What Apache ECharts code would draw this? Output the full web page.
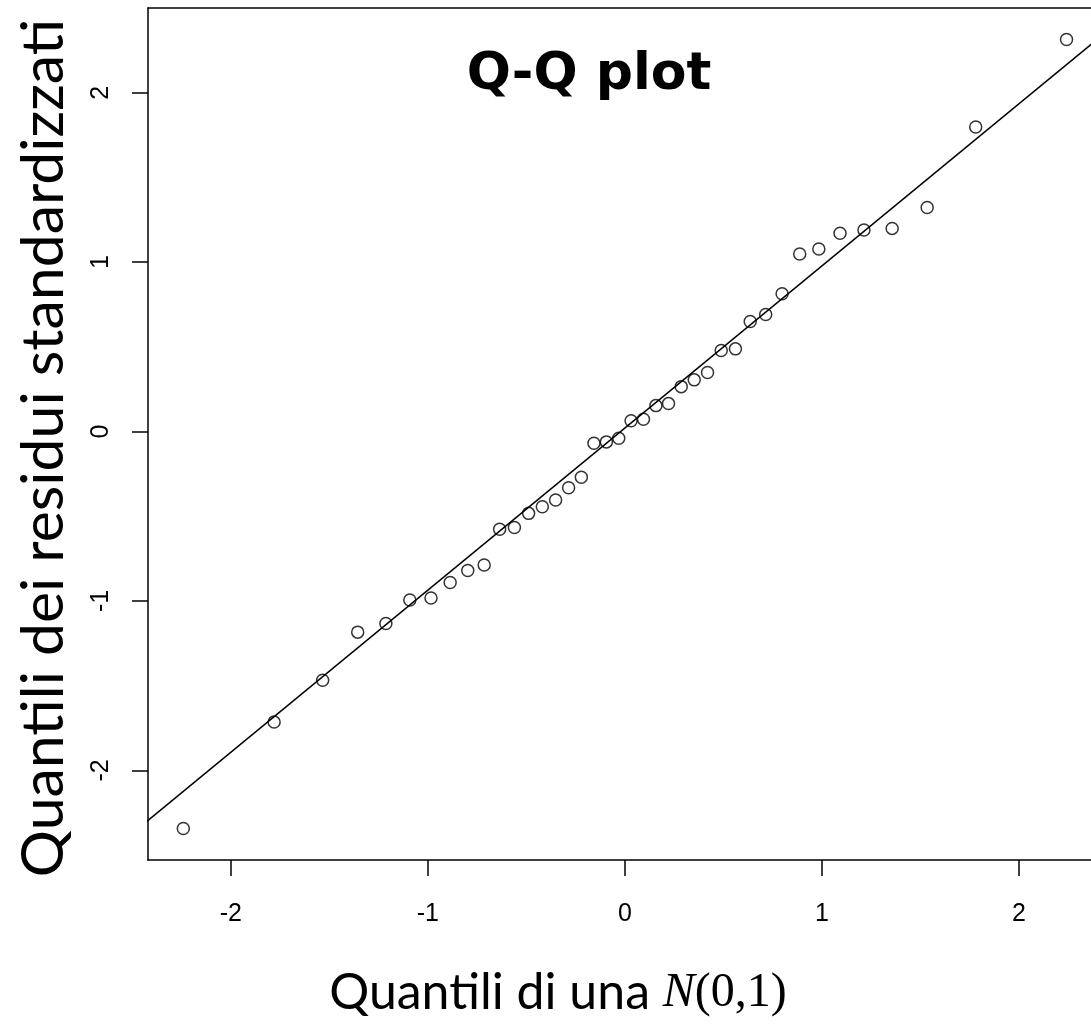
<!DOCTYPE html>
<html>
<head>
<meta charset="utf-8">
<script src="https://cdn.jsdelivr.net/npm/echarts@6/dist/echarts.min.js"></script>
<style>
  html, body { margin: 0; padding: 0; background: #fff; }
  #chart { width: 1091px; height: 1027px; }
</style>
</head>
<body>
<div id="chart"></div>
<script>
// Theoretical N(0,1) quantiles (x)
const theoreticalQuantiles = [
  -2.2414, -1.7805, -1.5341, -1.3563, -1.2133, -1.0918, -0.9842, -0.8871, -0.7977, -0.7144,
  -0.6359, -0.5609, -0.4888, -0.4193, -0.3518, -0.2858, -0.2212, -0.1573, -0.0941, -0.0313,
   0.0313,  0.0941,  0.1573,  0.2212,  0.2858,  0.3518,  0.4193,  0.4888,  0.5609,  0.6359,
   0.7144,  0.7977,  0.8871,  0.9842,  1.0918,  1.2133,  1.3563,  1.5341,  1.7805,  2.2414
];
// Standardized residual quantiles (y)
const residualQuantiles = [
  -2.343, -1.715, -1.468, -1.184, -1.133, -0.994, -0.983, -0.891, -0.820, -0.788,
  -0.577, -0.566, -0.483, -0.444, -0.404, -0.332, -0.270, -0.069, -0.061, -0.040,
   0.064,  0.073,  0.153,  0.165,  0.265,  0.305,  0.348,  0.478,  0.488,  0.650,
   0.691,  0.813,  1.048,  1.077,  1.170,  1.190,  1.199,  1.322,  1.798,  2.314
];
// Reference line (qqline): intercept and slope
const qqLineIntercept = 0.021;
const qqLineSlope = 0.9567;
// Axis ranges (the right side of the plot box is cut off by the picture edge) and tick labels
const xRange = [-2.4207, 2.3656];
const yRange = [-2.529, 2.500];
const xTicks = [-2, -1, 0, 1, 2];
const yTicks = [-2, -1, 0, 1, 2];
const titleText = 'Q-Q plot';
const xTitleText = 'Quantili di una ';
const xTitleMath = ['N', '(0,1)'];
const yTitleText = 'Quantili dei residui standardizzati';

const points = theoreticalQuantiles.map((x, i) => [x, residualQuantiles[i]]);
const lineEnds = [xRange[0] - 0.2, xRange[1] + 0.2].map(x => [x, qqLineIntercept + qqLineSlope * x]);

const chart = echarts.init(document.getElementById('chart'), null, { renderer: 'canvas' });
const axisFont = { color: '#000', fontFamily: 'Liberation Sans, Arial, sans-serif', fontSize: 25 };
const boxLine = { show: true, onZero: false, lineStyle: { color: '#000', width: 1.5 } };

chart.setOption({
  animation: false,
  backgroundColor: '#fff',
  title: {
    text: titleText,
    left: 584,
    top: 44,
    textAlign: 'center',
    textStyle: { fontFamily: 'DejaVu Sans', fontWeight: 'bold', fontSize: 52, color: '#000' }
  },
  grid: {
    left: 148, top: 8, width: 943, height: 852,
    show: false,
    containLabel: false
  },
  xAxis: [
    {
      type: 'value',
      position: 'bottom',
      min: xRange[0], max: xRange[1],
      axisLine: boxLine,
      axisTick: { show: true, length: 16, lineStyle: { color: '#000', width: 1.5 }, customValues: xTicks },
      axisLabel: Object.assign({ margin: 42, customValues: xTicks, formatter: v => String(v) }, axisFont),
      splitLine: { show: false }
    },
    {
      type: 'value',
      position: 'top',
      min: xRange[0], max: xRange[1],
      axisLine: boxLine,
      axisTick: { show: false },
      axisLabel: { show: false },
      splitLine: { show: false }
    }
  ],
  yAxis: {
    type: 'value',
    min: yRange[0], max: yRange[1],
    axisLine: boxLine,
    axisTick: { show: true, length: 16, lineStyle: { color: '#000', width: 1.5 }, customValues: yTicks },
    axisLabel: Object.assign({ margin: 34, rotate: 90, customValues: yTicks, formatter: v => String(v) }, axisFont),
    splitLine: { show: false }
  },
  graphic: [
    {
      type: 'text',
      x: 558, y: 993,
      style: {
        text: '{a|' + xTitleText + '}{n|' + xTitleMath[0] + '}{b|' + xTitleMath[1] + '}',
        align: 'center', verticalAlign: 'middle',
        rich: {
          a: { fontFamily: 'Lato', fontSize: 50, fill: '#000', color: '#000' },
          n: { fontFamily: 'Liberation Serif', fontStyle: 'italic', fontSize: 48, fill: '#000', color: '#000' },
          b: { fontFamily: 'Liberation Serif', fontSize: 48, fill: '#000', color: '#000' }
        }
      }
    },
    {
      type: 'text',
      x: 44, y: 448,
      rotation: Math.PI / 2,
      style: {
        text: yTitleText,
        align: 'center', verticalAlign: 'middle',
        font: '59px Lato', fill: '#000'
      }
    }
  ],
  series: [
    {
      type: 'line',
      data: lineEnds,
      symbol: 'none',
      clip: true,
      lineStyle: { color: '#000', width: 1.5 },
      z: 2
    },
    {
      type: 'scatter',
      data: points,
      symbol: 'circle',
      symbolSize: 12,
      itemStyle: { color: 'rgba(0,0,0,0)', borderColor: '#000', borderWidth: 1.5 },
      z: 3
    }
  ]
});
</script>
</body>
</html>
